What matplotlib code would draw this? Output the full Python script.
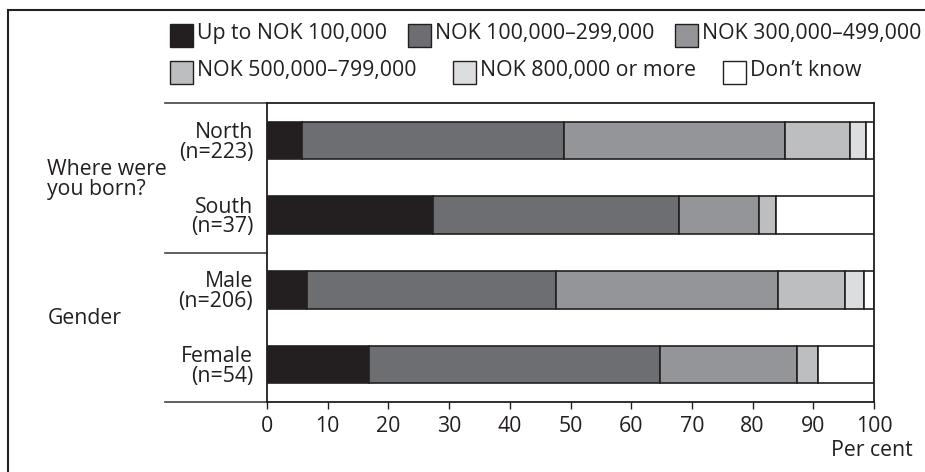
import matplotlib
matplotlib.use('Agg')
import matplotlib.pyplot as plt
from matplotlib.patches import Rectangle
import numpy as np

plt.rcParams['font.family'] = ['Open Sans', 'DejaVu Sans']

# data (per cent)
rows = ['North\n(n=223)', 'South\n(n=37)', 'Male\n(n=206)', 'Female\n(n=54)']
groups = ['Where were\nyou born?', 'Gender']
categories = ['Up to NOK 100,000', 'NOK 100,000\u2013299,000', 'NOK 300,000\u2013499,000',
              'NOK 500,000\u2013799,000', 'NOK 800,000 or more', 'Don\u2019t know']
up_to_100 = [5.7, 27.4, 6.6, 16.8]
nok_100_299 = [43.2, 40.5, 41.0, 48.0]
nok_300_499 = [36.5, 13.2, 36.6, 22.5]
nok_500_799 = [10.7, 2.7, 11.0, 3.5]
nok_800_plus = [2.6, 0.0, 3.1, 0.0]
dont_know = [1.3, 16.2, 1.7, 9.2]
series = [up_to_100, nok_100_299, nok_300_499, nok_500_799, nok_800_plus, dont_know]
colors = ['#231f20', '#6d6e71', '#939598', '#bcbec0', '#dcddde', '#ffffff']
EDGE = '#231f20'
FS = 15.3

W, H = 925, 472
fig = plt.figure(figsize=(W / 100, H / 100), dpi=100)
ax = fig.add_axes([267 / W, 1 - 402 / H, 607 / W, 299 / H])

y = np.arange(len(rows))
left = np.zeros(len(rows))
for vals, c in zip(series, colors):
    vals = np.array(vals)
    ax.barh(y, vals, left=left, height=0.5, color=c, edgecolor=EDGE, linewidth=1.2)
    left += vals

ax.set_xlim(0, 100)
ax.set_ylim(3.5, -0.5)
ax.set_xticks(np.arange(0, 101, 10))
ax.tick_params(axis='x', length=5, width=1, pad=5, labelsize=FS, colors='#231f20')
ax.set_yticks(y)
ax.set_yticklabels(rows, fontsize=FS, color='#231f20', linespacing=0.92)
ax.tick_params(axis='y', length=0, pad=10)
for s in ax.spines.values():
    s.set_color('#231f20')
    s.set_linewidth(1.3)

# group separator lines left of the axis
tr = ax.get_yaxis_transform()
for yy in [-0.5, 1.5, 3.5]:
    ax.plot([-0.168, 0], [yy, yy], transform=tr, clip_on=False, color='#444444', lw=1.2)

# group labels
ax.text(-0.362, 0.52, groups[0], transform=tr, ha='left', va='center',
        fontsize=FS, color='#231f20', linespacing=0.92)
ax.text(-0.362, 2.38, groups[1], transform=tr, ha='left', va='center',
        fontsize=FS, color='#231f20')

fig.text(913 / W, 1 - 451 / H, 'Per cent', ha='right', va='center', fontsize=FS, color='#231f20')

# legend, two free-flowing rows
leg_x = [170, 408, 675, 170, 453, 723]
leg_y = [35, 35, 35, 72, 72, 72]
for lab, c, lx, ly in zip(categories, colors, leg_x, leg_y):
    fig.patches.append(Rectangle((lx / W, 1 - (ly + 11.5) / H), 23 / W, 23 / H,
                                 transform=fig.transFigure, facecolor=c,
                                 edgecolor=EDGE, linewidth=1.0))
    fig.text((lx + 27) / W, 1 - (ly - 1) / H, lab, ha='left', va='center', fontsize=FS, color='#231f20')

# outer frame (runs off the right and bottom edges)
fig.patches.append(Rectangle((8 / W, -0.05), 1.0, 1 - 10 / H + 0.05,
                             transform=fig.transFigure, fill=False,
                             edgecolor='#231f20', linewidth=1.5))

fig.savefig('out.png', dpi=100)
